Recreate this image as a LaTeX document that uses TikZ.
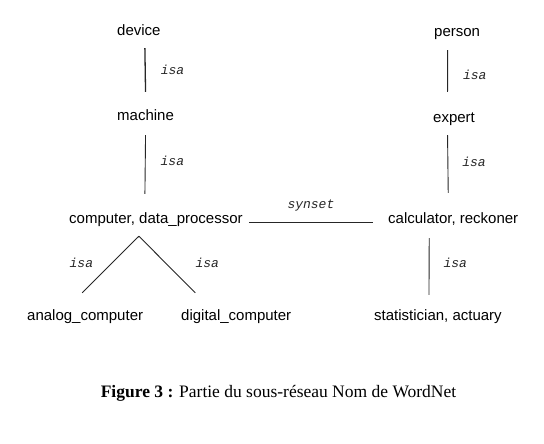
\documentclass[tikz,border=0pt]{standalone}
\usepackage{fontspec}
\setsansfont{Liberation Sans}
\setmonofont{Liberation Mono}
\newfontfamily\capfont{Liberation Serif}
\tikzset{
    word/.style={anchor=base west,inner sep=0pt,text height=11pt,text depth=3pt,
        font=\sffamily\fontsize{15}{18}\selectfont},
    rel/.style={inner sep=0pt,font=\ttfamily\itshape\fontsize{13}{15}\selectfont},
    isaline/.style={line width=0.9pt,black!85}
}
\begin{document}
\begin{tikzpicture}[x=1pt,y=-1pt]
    \useasboundingbox (0,0) rectangle (544,444);
    % left part
    \node[word] (device) at (117,36) {device};
    \node[word] (machine) at (117,121) {machine};
    \node[word] (comp) at (69,223) {computer, data\_processor};
    \node[word] (analog) at (27,320) {analog\_computer};
    \node[word] (digital) at (181,320) {digital\_computer};
    % right part
    \node[word] (person) at (434,37) {person};
    \node[word] (expert) at (433,122) {expert};
    \node[word] (calc) at (388,223) {calculator, reckoner};
    \node[word] (stat) at (374,320) {statistician, actuary};
    % isa links
    \draw[isaline,line width=1.3pt]([xshift=6pt,yshift=-9pt]device.south)--node[rel,midway,right=15pt]{isa}([xshift=0pt,yshift=18pt]machine.north);
    \draw[isaline]([xshift=0pt,yshift=-11pt]machine.south)--node[rel,midway,right=15pt,yshift=4pt]{isa}([xshift=-11pt,yshift=18pt]comp.north);
    \draw[isaline]([xshift=-9.5pt,yshift=-10pt]person.south)--node[rel,midway,right=15pt,yshift=-4pt]{isa}([xshift=-6.5pt,yshift=19pt]expert.north);
    \draw[isaline]([xshift=-6.5pt,yshift=-10pt]expert.south)--node[rel,midway,right=14pt,yshift=2pt]{isa}([xshift=-5pt,yshift=19pt]calc.north);
    \draw[isaline]([xshift=-24pt,yshift=-12pt]calc.south)--node[rel,midway,right=14pt,yshift=4pt]{isa}([xshift=-9pt,yshift=14pt]stat.north);
    \coordinate (apex) at ([xshift=-17pt,yshift=-10pt]comp.south);
    \draw[isaline](apex)--node[rel,midway,left=17pt,yshift=2pt]{isa}([xshift=-3pt,yshift=16pt]analog.north);
    \draw[isaline](apex)--node[rel,midway,right=28pt,yshift=2pt]{isa}([xshift=-41pt,yshift=16pt]digital.north);
    % synset link
    \draw[isaline,line width=0.7pt]([xshift=6pt,yshift=-3pt]comp.east)--node[rel,midway,above=10pt]{synset}([xshift=-15pt,yshift=-3pt]calc.west);
    % caption
    \node[anchor=base,inner sep=0pt,font=\capfont\fontsize{17.5}{20}\selectfont] (caption) at (278.5,397)
        {\textbf{Figure 3 :} Partie du sous-réseau Nom de WordNet};
\end{tikzpicture}
\end{document}
